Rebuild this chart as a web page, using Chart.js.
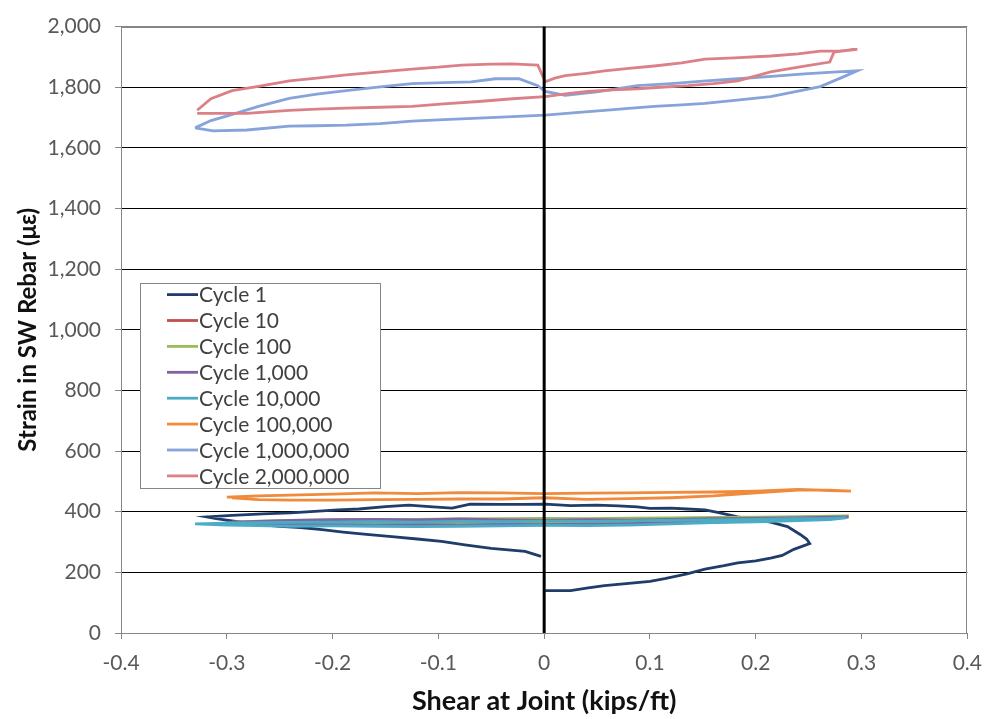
<!DOCTYPE html>
<html>
<head>
<meta charset="utf-8">
<script src="https://cdn.jsdelivr.net/npm/chart.js@4/dist/chart.umd.min.js"></script>
<style>
  html, body { margin: 0; padding: 0; background: #ffffff; }
  #wrap { width: 994px; height: 719px; }
</style>
</head>
<body>
<div id="wrap"><canvas id="c" width="994" height="719"></canvas></div>
<script>
// Tick values for both axes
const xTicks = [-0.4, -0.3, -0.2, -0.1, 0, 0.1, 0.2, 0.3, 0.4];
const yTicks = [0, 200, 400, 600, 800, 1000, 1200, 1400, 1600, 1800, 2000];

const seriesNames = ['Cycle 1', 'Cycle 10', 'Cycle 100', 'Cycle 1,000', 'Cycle 10,000',
  'Cycle 100,000', 'Cycle 1,000,000', 'Cycle 2,000,000'];
const seriesColors = ['#1F3C6B', '#C0504D', '#9BBB59', '#8064A2', '#4BACC6',
  '#F08A3C', '#86A3DA', '#DC8088'];

// Shear (kips/ft) and strain (με) traced over one load cycle
const c1X = [0.001, 0.025, 0.040, 0.057, 0.085, 0.100, 0.114, 0.135, 0.152, 0.170, 0.183, 0.200, 0.214, 0.225, 0.236, 0.251, 0.248, 0.242, 0.230, 0.215, 0.200, 0.183, 0.165, 0.152, 0.135, 0.120, 0.100, 0.088, 0.070, 0.050, 0.025, 0.001, -0.020, -0.040, -0.070, -0.087, -0.105, -0.128, -0.150, -0.175, -0.195, -0.213, -0.240, -0.266, -0.295, -0.319, -0.310, -0.280, -0.250, -0.230, -0.210, -0.190, -0.168, -0.144, -0.120, -0.097, -0.075, -0.050, -0.018, -0.003];
const c1Y = [140, 140, 148, 156, 165, 170, 179, 195, 211, 222, 231, 238, 247, 256, 276, 295, 310, 325, 351, 365, 375, 383, 397, 406, 409, 412, 411, 416, 419, 422, 420, 425, 424, 424, 425, 412, 416, 422, 417, 409, 406, 402, 396, 393, 388, 383, 377, 362, 352, 348, 341, 333, 325, 318, 310, 302, 291, 279, 269, 253];

const c10X = [-0.300, -0.270, -0.240, -0.200, -0.160, -0.120, -0.080, -0.040, 0.000, 0.040, 0.080, 0.120, 0.160, 0.200, 0.240, 0.270, 0.288, 0.270, 0.240, 0.200, 0.160, 0.120, 0.080, 0.040, 0.000, -0.040, -0.080, -0.120, -0.160, -0.200, -0.240, -0.270, -0.300];
const c10Y = [364, 366, 368, 369, 371, 370, 372, 371, 373, 372, 374, 375, 376, 378, 380, 381, 383, 378, 375, 371, 368, 366, 364, 362, 361, 360, 359, 358, 358, 357, 358, 359, 364];

const c100X = [-0.295, -0.270, -0.240, -0.200, -0.160, -0.120, -0.080, -0.040, 0.000, 0.040, 0.080, 0.120, 0.160, 0.200, 0.240, 0.270, 0.288, 0.270, 0.240, 0.200, 0.160, 0.120, 0.080, 0.040, 0.000, -0.040, -0.080, -0.120, -0.160, -0.200, -0.240, -0.270, -0.295];
const c100Y = [366, 369, 371, 373, 374, 375, 376, 377, 378, 377, 379, 380, 381, 382, 384, 385, 386, 380, 377, 373, 370, 368, 366, 365, 364, 363, 362, 361, 361, 360, 361, 362, 366];

const c1kX = [-0.300, -0.270, -0.240, -0.200, -0.160, -0.120, -0.080, -0.040, 0.000, 0.040, 0.080, 0.120, 0.160, 0.200, 0.240, 0.270, 0.287, 0.270, 0.240, 0.200, 0.160, 0.120, 0.080, 0.040, 0.000, -0.040, -0.080, -0.120, -0.160, -0.200, -0.240, -0.270, -0.300];
const c1kY = [365, 368, 371, 374, 375, 373, 376, 373, 371, 374, 372, 375, 377, 378, 380, 382, 383, 377, 373, 369, 366, 363, 361, 359, 357, 358, 356, 357, 356, 357, 358, 360, 365];

const c10kX = [-0.330, -0.300, -0.270, -0.240, -0.200, -0.160, -0.120, -0.080, -0.040, 0.000, 0.040, 0.080, 0.120, 0.160, 0.200, 0.240, 0.270, 0.285, 0.270, 0.240, 0.200, 0.160, 0.120, 0.080, 0.040, 0.000, -0.040, -0.080, -0.120, -0.160, -0.200, -0.240, -0.270, -0.300, -0.330];
const c10kY = [360, 362, 364, 365, 366, 367, 366, 368, 367, 369, 368, 370, 372, 373, 375, 377, 378, 380, 374, 371, 367, 364, 360, 356, 354, 355, 353, 352, 351, 352, 353, 352, 354, 356, 360];

const c100kX = [-0.300, -0.270, -0.240, -0.200, -0.160, -0.120, -0.080, -0.040, 0.000, 0.040, 0.080, 0.120, 0.160, 0.200, 0.240, 0.270, 0.290, 0.270, 0.240, 0.200, 0.160, 0.120, 0.080, 0.040, 0.000, -0.040, -0.080, -0.120, -0.160, -0.200, -0.240, -0.270, -0.295];
const c100kY = [448, 452, 455, 458, 462, 460, 463, 462, 460, 461, 462, 464, 465, 468, 474, 470, 468, 471, 471, 462, 452, 446, 443, 441, 446, 442, 442, 441, 440, 438, 438, 440, 446];

const c1mX = [-0.330, -0.315, -0.297, -0.270, -0.241, -0.215, -0.187, -0.155, -0.125, -0.095, -0.069, -0.046, -0.024, -0.006, 0.001, 0.020, 0.050, 0.088, 0.120, 0.150, 0.183, 0.215, 0.246, 0.277, 0.296, 0.280, 0.261, 0.240, 0.214, 0.180, 0.152, 0.130, 0.104, 0.080, 0.057, 0.030, 0.001, -0.030, -0.062, -0.095, -0.125, -0.155, -0.187, -0.215, -0.241, -0.281, -0.313, -0.330];
const c1mY = [1666, 1690, 1708, 1737, 1763, 1777, 1789, 1801, 1812, 1815, 1818, 1828, 1828, 1805, 1786, 1773, 1785, 1805, 1812, 1820, 1828, 1836, 1844, 1851, 1854, 1830, 1802, 1787, 1769, 1757, 1747, 1742, 1737, 1730, 1724, 1716, 1708, 1703, 1698, 1693, 1688, 1680, 1675, 1673, 1672, 1659, 1656, 1666];

const c2mX = [-0.328, -0.315, -0.295, -0.270, -0.241, -0.215, -0.187, -0.155, -0.125, -0.100, -0.078, -0.050, -0.031, -0.006, 0.001, 0.010, 0.020, 0.040, 0.057, 0.080, 0.104, 0.130, 0.152, 0.180, 0.214, 0.240, 0.261, 0.280, 0.296, 0.285, 0.274, 0.272, 0.270, 0.246, 0.214, 0.183, 0.160, 0.136, 0.110, 0.088, 0.065, 0.041, 0.020, 0.001, -0.030, -0.062, -0.095, -0.125, -0.155, -0.187, -0.215, -0.241, -0.281, -0.313, -0.328];
const c2mY = [1724, 1762, 1789, 1803, 1821, 1830, 1841, 1851, 1860, 1866, 1873, 1876, 1877, 1873, 1818, 1830, 1838, 1846, 1854, 1862, 1870, 1880, 1893, 1897, 1903, 1910, 1919, 1920, 1925, 1921, 1916, 1900, 1883, 1870, 1851, 1821, 1812, 1805, 1800, 1795, 1791, 1786, 1778, 1769, 1762, 1753, 1745, 1737, 1734, 1731, 1728, 1724, 1714, 1714, 1714];

const seriesX = [c1X, c10X, c100X, c1kX, c10kX, c100kX, c1mX, c2mX];
const seriesY = [c1Y, c10Y, c100Y, c1kY, c10kY, c100kY, c1mY, c2mY];

const FONT = 'Lato, "Open Sans", "DejaVu Sans", sans-serif';

const datasets = seriesNames.map((name, i) => ({
  label: name,
  data: seriesX[i].map((x, k) => ({ x: x, y: seriesY[i][k] })),
  borderColor: seriesColors[i],
  backgroundColor: seriesColors[i],
  borderWidth: 2.8,
  pointRadius: 0,
  showLine: true,
  fill: false,
  tension: 0,
  order: seriesNames.length - i
}));

// Plot frame, the heavy line at zero shear, and the boxed legend
const decorations = {
  id: 'decorations',
  beforeDatasetsDraw(chart) {
    const { ctx, chartArea: a } = chart;
    ctx.save();
    ctx.strokeStyle = '#868686';
    ctx.lineWidth = 1;
    ctx.strokeRect(Math.round(a.left) + 0.5, Math.round(a.top) + 0.5,
      Math.round(a.right - a.left) - 1, Math.round(a.bottom - a.top));
    ctx.restore();
  },
  afterDatasetsDraw(chart) {
    const { ctx, chartArea: a, scales } = chart;
    const x0 = scales.x.getPixelForValue(0);
    ctx.save();
    ctx.strokeStyle = '#000000';
    ctx.lineWidth = 3;
    ctx.beginPath();
    ctx.moveTo(x0, a.top);
    ctx.lineTo(x0, a.bottom);
    ctx.stroke();

    // legend box
    const bx = a.left + 19, by = a.top + 256, bw = 240, bh = 205;
    ctx.fillStyle = '#ffffff';
    ctx.fillRect(bx, by, bw, bh);
    ctx.strokeStyle = '#868686';
    ctx.lineWidth = 1;
    ctx.strokeRect(Math.round(bx) + 0.5, Math.round(by) + 0.5, bw, bh);
    ctx.font = '21px ' + FONT;
    ctx.textBaseline = 'middle';
    ctx.textAlign = 'left';
    chart.data.datasets.forEach((ds, i) => {
      const yy = by + 12 + i * 25.9;
      ctx.strokeStyle = ds.borderColor;
      ctx.lineWidth = 2.8;
      ctx.beginPath();
      ctx.moveTo(bx + 27, yy);
      ctx.lineTo(bx + 58, yy);
      ctx.stroke();
      ctx.fillStyle = '#404040';
      ctx.fillText(ds.label, bx + 59, yy + 1);
    });
    ctx.restore();
  }
};

new Chart(document.getElementById('c'), {
  type: 'scatter',
  data: { datasets: datasets },
  options: {
    responsive: false,
    animation: false,
    devicePixelRatio: 1,
    layout: { padding: { top: 17, right: 23, left: 0, bottom: 0 } },
    plugins: {
      legend: { display: false },
      tooltip: { enabled: false }
    },
    scales: {
      x: {
        type: 'linear',
        position: 'bottom',
        min: -0.4,
        max: 0.4,
        afterBuildTicks(scale) { scale.ticks = xTicks.map(v => ({ value: v })); },
        afterFit(scale) { scale.height = 86; },
        ticks: {
          color: '#595959',
          font: { family: FONT, size: 21 },
          padding: 12,
          maxRotation: 0,
          autoSkip: false,
          callback: v => String(Math.round(v * 10) / 10)
        },
        grid: {
          drawOnChartArea: false,
          drawTicks: true,
          tickLength: 6,
          tickColor: '#868686',
          color: '#868686'
        },
        border: { display: true, color: '#868686', width: 1 },
        title: {
          display: true,
          text: 'Shear at Joint (kips/ft)',
          color: '#111111',
          font: { family: FONT, size: 27, weight: 'bold' },
          padding: { top: 0, bottom: 2 }
        }
      },
      y: {
        type: 'linear',
        min: 0,
        max: 2000,
        afterBuildTicks(scale) { scale.ticks = yTicks.map(v => ({ value: v })); },
        afterFit(scale) { scale.width = 121; },
        ticks: {
          color: '#595959',
          font: { family: FONT, size: 21 },
          padding: 14,
          autoSkip: false,
          callback: v => Number(v).toLocaleString('en-US')
        },
        grid: {
          drawOnChartArea: true,
          drawTicks: true,
          tickLength: 6,
          tickColor: '#868686',
          color: ctx => (ctx.tick && (ctx.tick.value === 2000 || ctx.tick.value === 0)) ? '#868686' : '#000000',
          lineWidth: 1
        },
        border: { display: true, color: '#868686', width: 1 },
        title: {
          display: true,
          text: 'Strain in SW Rebar (με)',
          color: '#111111',
          font: { family: FONT, size: 24, weight: 'bold' },
          padding: { top: 14, bottom: 0 }
        }
      }
    }
  },
  plugins: [decorations]
});
</script>
</body>
</html>
